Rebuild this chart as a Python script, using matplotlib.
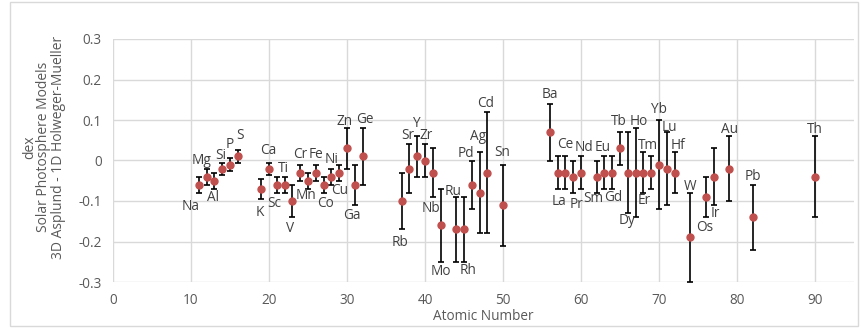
import numpy as np
import matplotlib.pyplot as plt
from matplotlib.patches import Rectangle

# Element, atomic number, 3D - 1D abundance difference (dex) and its error
elements = ['Na', 'Mg', 'Al', 'Si', 'P', 'S', 'K', 'Ca', 'Sc', 'Ti', 'V',
            'Cr', 'Mn', 'Fe', 'Co', 'Ni', 'Cu', 'Zn', 'Ga', 'Ge',
            'Rb', 'Sr', 'Y', 'Zr', 'Nb', 'Mo', 'Ru', 'Rh', 'Pd', 'Ag', 'Cd', 'Sn',
            'Ba', 'La', 'Ce', 'Pr', 'Nd', 'Sm', 'Eu', 'Gd', 'Tb', 'Dy', 'Ho',
            'Er', 'Tm', 'Yb', 'Lu', 'Hf', 'W', 'Os', 'Ir', 'Au', 'Pb', 'Th']
z = [11, 12, 13, 14, 15, 16, 19, 20, 21, 22, 23,
     24, 25, 26, 27, 28, 29, 30, 31, 32,
     37, 38, 39, 40, 41, 42, 44, 45, 46, 47, 48, 50,
     56, 57, 58, 59, 60, 62, 63, 64, 65, 66, 67,
     68, 69, 70, 71, 72, 74, 76, 77, 79, 82, 90]
diff = [-0.06, -0.04, -0.05, -0.02, -0.01, 0.01, -0.07, -0.02, -0.06, -0.06, -0.10,
        -0.03, -0.05, -0.03, -0.06, -0.04, -0.03, 0.03, -0.06, 0.01,
        -0.10, -0.02, 0.01, 0.00, -0.03, -0.16, -0.17, -0.17, -0.06, -0.08, -0.03, -0.11,
        0.07, -0.03, -0.03, -0.04, -0.03, -0.04, -0.03, -0.03, 0.03, -0.03, -0.03,
        -0.03, -0.03, -0.01, -0.02, -0.03, -0.19, -0.09, -0.04, -0.02, -0.14, -0.04]
err = [0.02, 0.02, 0.02, 0.015, 0.015, 0.015, 0.025, 0.015, 0.02, 0.02, 0.04,
       0.02, 0.02, 0.02, 0.02, 0.02, 0.02, 0.05, 0.05, 0.07,
       0.07, 0.06, 0.05, 0.04, 0.06, 0.09, 0.08, 0.08, 0.06, 0.10, 0.15, 0.10,
       0.07, 0.04, 0.04, 0.04, 0.04, 0.04, 0.04, 0.04, 0.04, 0.10, 0.11,
       0.05, 0.04, 0.11, 0.09, 0.05, 0.11, 0.05, 0.07, 0.08, 0.08, 0.10]

# label offsets from the point, in pixels (dx, dy; positive dy = up)
label_offsets = [(-8, -22), (-5, 16), (-1, -17), (-1, 13), (0, 20), (2, 21), (-1, -24), (-1, 18), (-3, -19), (-1, 16), (-2, -27),
                 (0, 18), (-2, -15), (0, 18), (2, -19), (0, 17), (0, -18), (-2, 27), (-3, -31), (2, 37),
                 (-2, -41), (-2, 33), (0, 33), (1, 25), (-2, -36), (0, -46), (-3, 38), (4, -41), (-6, 31), (-2, 56), (-2, 69), (-1, 53),
                 (0, 38), (1, -29), (0, 28), (3, -28), (3, 25), (-3, -22), (-2, 25), (1, -25), (-1, 27), (-1, -48), (3, 51),
                 (1, -28), (-3, 27), (0, 55), (3, 41), (3, 27), (0, 51), (-1, -31), (2, -37), (0, 39), (0, 41), (0, 47)]

plt.rcParams['font.family'] = ['Open Sans', 'DejaVu Sans']

fig = plt.figure(figsize=(8.61, 3.28), dpi=100)
ax = fig.add_axes([113 / 861, 1 - 282 / 328, (854 - 113) / 861, (282 - 39) / 328])

fig.patches.append(Rectangle((10 / 861, 2 / 328), 848 / 861, 324 / 328, transform=fig.transFigure,
                             fill=False, edgecolor='#D9D9D9', linewidth=1))

ax.errorbar(z, diff, yerr=err, fmt='o', color='#C0504D', markersize=5,
            ecolor='black', elinewidth=1.2, capsize=2.5, capthick=1.2, zorder=3)

for name, x, y, (dx, dy) in zip(elements, z, diff, label_offsets):
    ax.annotate(name, (x, y), xytext=(dx, dy), textcoords='offset pixels',
                ha='center', va='center', fontsize=9.8, color='#404040', zorder=4)

ax.set_xlim(0, 95)
ax.set_ylim(-0.3, 0.3)
ax.set_xticks(np.arange(0, 100, 10))
ax.set_yticks(np.arange(-0.3, 0.31, 0.1))
ax.set_yticklabels(['-0.3', '-0.2', '-0.1', '0', '0.1', '0.2', '0.3'])
ax.grid(True, color='#D9D9D9', linewidth=1)
ax.set_axisbelow(True)
for s in ax.spines.values():
    s.set_visible(False)
ax.tick_params(length=0, labelsize=9.8, labelcolor='#595959', pad=8)

ax.set_xlabel('Atomic Number', fontsize=9.8, color='#595959', labelpad=1)
fig.text(44 / 861, 1 - 147 / 328, 'dex\nSolar Photosphere Models\n3D Asplund - 1D Holweger-Mueller',
         rotation=90, ha='center', va='center', multialignment='center',
         fontsize=10, color='#595959', linespacing=0.95)

fig.savefig('out.png', dpi=100)
